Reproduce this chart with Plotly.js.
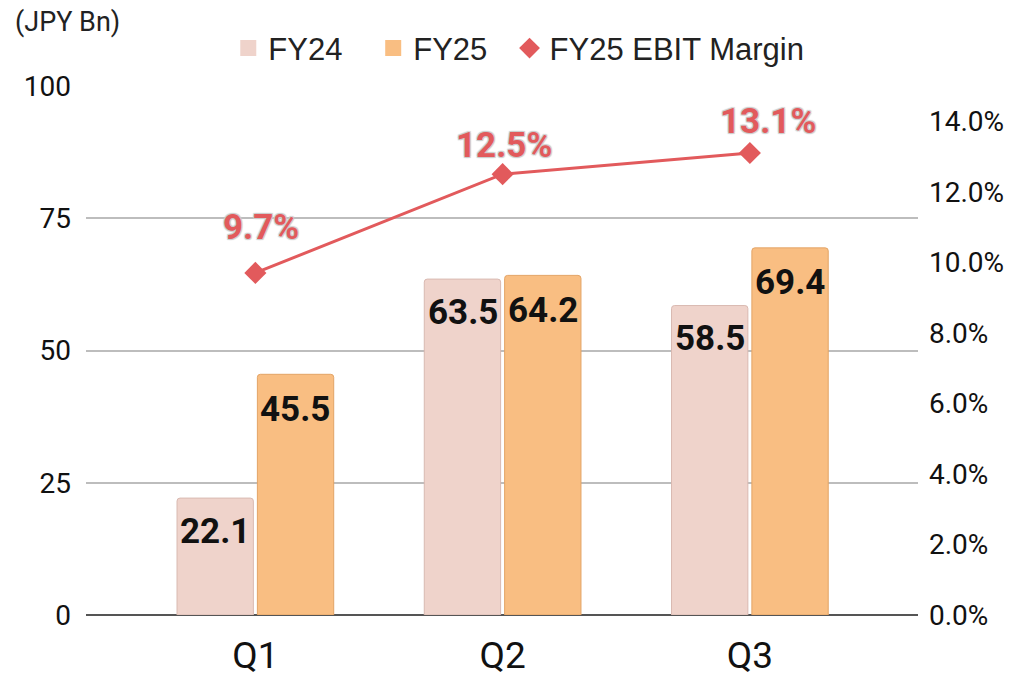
<!DOCTYPE html>
<html>
<head>
<meta charset="utf-8">
<script src="https://cdn.plot.ly/plotly-3.0.1.min.js"></script>
<style>html,body{margin:0;padding:0;background:#fff;}#chart{width:1025px;height:681px;}</style>
</head>
<body>
<div id="chart"></div>
<script>
const quarters = ['Q1', 'Q2', 'Q3'];
const fy24 = [22.1, 63.5, 58.5];
const fy25 = [45.5, 64.2, 69.4];
const margin = [0.097, 0.125, 0.131];
const marginLabels = ['9.7%', '12.5%', '13.1%'];
const legendNames = ['FY24', 'FY25', 'FY25 EBIT Margin'];

const C24 = '#EFD3CB', C25 = '#F9BE82', CM = '#E25A5C';
const NB = '\u00a0';
const traces = [
  {
    type: 'bar', name: legendNames[0], x: quarters, y: fy24, showlegend: false,
    marker: {color: C24, line: {color: '#D9B9B1', width: 1}, cornerradius: 3},
    hoverinfo: 'skip'
  },
  {
    type: 'bar', name: legendNames[1], x: quarters, y: fy25, showlegend: false,
    marker: {color: C25, line: {color: '#E3A466', width: 1}, cornerradius: 3},
    hoverinfo: 'skip'
  },
  {
    type: 'scatter', mode: 'lines+markers', name: legendNames[2], showlegend: false,
    x: quarters, y: margin, yaxis: 'y2',
    line: {color: CM, width: 3},
    marker: {symbol: 'diamond', size: 17, color: CM},
    hoverinfo: 'skip'
  },
  // legend entries
  {type: 'scatter', mode: 'markers', name: legendNames[0] + NB.repeat(3), x: [null], y: [null],
    marker: {symbol: 'square', size: 22, color: C24}},
  {type: 'scatter', mode: 'markers', name: legendNames[1] + NB.repeat(2), x: [null], y: [null],
    marker: {symbol: 'square', size: 22, color: C25}},
  {type: 'scatter', mode: 'markers', name: legendNames[2], x: [null], y: [null],
    marker: {symbol: 'diamond', size: 22, color: CM}}
];

const annotations = [];
const barShift = 40;
const lblFont = {family: 'Roboto, Arial, sans-serif', size: 35, color: '#111'};
quarters.forEach((q, i) => {
  annotations.push({x: q, y: fy24[i], xref: 'x', yref: 'y', text: '<b>' + fy24[i].toFixed(1) + '</b>',
    showarrow: false, xshift: -barShift, yshift: -33, yanchor: 'middle', font: lblFont});
  annotations.push({x: q, y: fy25[i], xref: 'x', yref: 'y', text: '<b>' + fy25[i].toFixed(1) + '</b>',
    showarrow: false, xshift: barShift, yshift: -35, yanchor: 'middle', font: lblFont});
});
const mShift = [45, 29, 32];
const mX = [6, 1, 18];
quarters.forEach((q, i) => {
  annotations.push({x: q, y: margin[i], xref: 'x', yref: 'y2', text: '<b>' + marginLabels[i] + '</b>',
    showarrow: false, yshift: mShift[i], xshift: mX[i], yanchor: 'middle',
    font: {family: 'Roboto, Arial, sans-serif', size: 35, color: CM,
      shadow: '1px 1px 1px #ccc, -1px -1px 1px #ccc, 1px -1px 1px #ccc, -1px 1px 1px #ccc'}});
});
annotations.push({xref: 'paper', yref: 'paper', x: 0, y: 1, xanchor: 'left', yanchor: 'middle',
  xshift: -73, yshift: 64, text: '(JPY Bn)', showarrow: false,
  font: {family: 'Roboto, Arial, sans-serif', size: 27, color: '#222'}});

const layout = {
  width: 1025, height: 681,
  margin: {l: 86, r: 107, t: 86, b: 66},
  paper_bgcolor: '#fff', plot_bgcolor: '#fff',
  barmode: 'group', bargap: 0.35, bargroupgap: 0.05,
  showlegend: true,
  legend: {orientation: 'h', x: 0.171, xanchor: 'left', y: 1.02, yanchor: 'bottom',
    font: {family: 'Liberation Sans, Arial, sans-serif', size: 31, color: '#222'},
    itemwidth: 30, traceorder: 'normal'},
  xaxis: {type: 'category', range: [-0.685, 2.68], showgrid: false, ticks: '', showline: false,
    ticklabelstandoff: 15,
    tickfont: {family: 'Roboto, Arial, sans-serif', size: 37, color: '#111'}},
  yaxis: {range: [0, 100], dtick: 25, showgrid: true, gridcolor: '#BDBDBD', gridwidth: 2,
    zeroline: true, zerolinecolor: '#555', zerolinewidth: 2, ticks: '', ticklabelstandoff: 14,
    tickfont: {family: 'Roboto, Arial, sans-serif', size: 28, color: '#111'}},
  yaxis2: {overlaying: 'y', side: 'right', range: [0, 0.15], dtick: 0.02, tickformat: '.1%',
    showgrid: false, zeroline: false, ticks: '', ticklabelstandoff: 10,
    tickfont: {family: 'Roboto, Arial, sans-serif', size: 28, color: '#111'}},
  annotations: annotations
};

Plotly.newPlot('chart', traces, layout, {displayModeBar: false, staticPlot: true});
</script>
</body>
</html>
